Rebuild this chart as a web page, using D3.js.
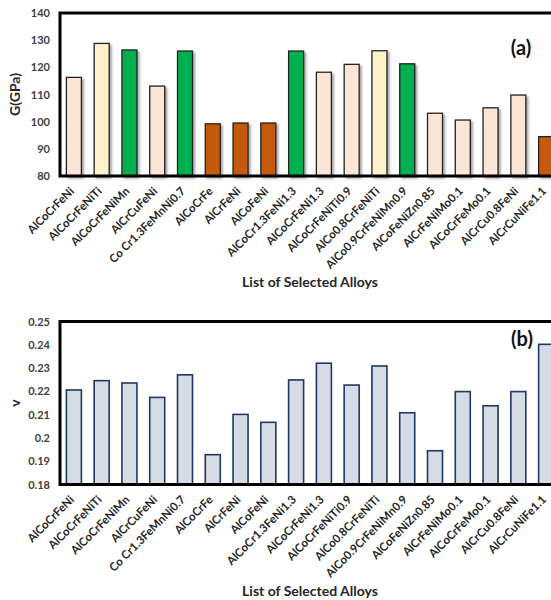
<!DOCTYPE html>
<meta charset="utf-8">
<style>
  body { margin: 0; overflow: hidden; background: #fff; }
  text { font-family: Lato, "Open Sans", sans-serif; font-weight: bold; }
</style>

<!-- Load d3.js -->
<script src="https://d3js.org/d3.v7.min.js"></script>

<div id="my_dataviz"></div>

<script>

// alloys on the x axis (same order in both panels)
var alloys = ["AlCoCrFeNi", "AlCoCrFeNiTi", "AlCoCrFeNiMn", "AlCrCuFeNi", "Co Cr1.3FeMnNi0.7",
  "AlCoCrFe", "AlCrFeNi", "AlCoFeNi", "AlCoCr1.3FeNi1.3", "AlCoCrFeNi1.3", "AlCoCrFeNiTi0.9",
  "AlCo0.8CrFeNiTi", "AlCo0.9CrFeNiMn0.9", "AlCoFeNiZn0.85", "AlCrFeNiMo0.1", "AlCoCrFeMo0.1",
  "AlCrCu0.8FeNi", "AlCrCuNiFe1.1"];

// shear modulus G (GPa)
var shearModulus = [116.3, 128.8, 126.4, 113.1, 126.0, 99.2, 99.5, 99.5, 126.0, 118.2,
  121.1, 126.1, 121.3, 103.1, 100.6, 105.1, 109.8, 94.5];

// group of each bar in panel (a)
var groups = ["p", "y", "g", "p", "g", "o", "o", "o", "g", "p", "p", "y", "g", "p", "p", "p", "p", "o"];

// poisson ratio v
var poisson = [0.2206, 0.2246, 0.2236, 0.2174, 0.2271, 0.1928, 0.2101, 0.2067, 0.2249, 0.2321,
  0.2227, 0.2309, 0.2108, 0.1945, 0.2199, 0.2138, 0.2199, 0.2402];

var gTicks = [80, 90, 100, 110, 120, 130, 140];
var vTicks = [0.18, 0.19, 0.2, 0.21, 0.22, 0.23, 0.24, 0.25];

var groupColor = {p: "#fbe5d6", y: "#fff2cc", g: "#00b050", o: "#c55a11"};

var margin = {left: 60},
    plotWidth = 500,
    plotHeight = 163;

var svg = d3.select("#my_dataviz")
  .append("svg")
    .attr("width", 580)
    .attr("height", 600);

// soft shadow behind the bars of (a)
svg.append("defs").append("filter")
    .attr("id", "shadow")
    .attr("x", "-20%").attr("y", "-20%").attr("width", "160%").attr("height", "140%")
  .append("feDropShadow")
    .attr("dx", 2).attr("dy", 2)
    .attr("stdDeviation", 1.2)
    .attr("flood-color", "#000")
    .attr("flood-opacity", 0.35);

var x = d3.scaleBand()
  .domain(alloys)
  .range([0, plotWidth])
  .paddingInner(0.46)
  .paddingOuter(0.23);

function drawPanel(top, values, domain, ticks, fmt, yTitle, tag, styleBar) {
  var g = svg.append("g")
    .attr("transform", "translate(" + margin.left + "," + top + ")");

  var y = d3.scaleLinear()
    .domain(domain)
    .range([plotHeight, 0]);

  // bars
  var bars = g.append("g")
    .selectAll("rect")
    .data(values)
    .enter()
    .append("rect")
      .attr("x", function (d, i) { return x(alloys[i]); })
      .attr("y", function (d) { return y(d); })
      .attr("width", x.bandwidth())
      .attr("height", function (d) { return plotHeight - y(d); });
  styleBar(bars);

  // frame
  g.append("rect")
    .attr("x", 0).attr("y", 0)
    .attr("width", plotWidth).attr("height", plotHeight)
    .attr("fill", "none")
    .attr("stroke", "#000")
    .attr("stroke-width", 3);

  // y axis
  var yAxis = g.append("g")
    .call(d3.axisLeft(y).tickValues(ticks).tickFormat(fmt).tickSize(0).tickPadding(10));
  yAxis.select(".domain").remove();
  yAxis.selectAll("text")
    .style("font-size", "11px")
    .style("font-family", "Lato, sans-serif")
    .style("font-weight", "bold")
    .attr("fill", "#404040");

  // x axis, labels slanted at 45 degrees
  var xAxis = g.append("g")
    .attr("transform", "translate(0," + plotHeight + ")")
    .call(d3.axisBottom(x).tickSize(0));
  xAxis.select(".domain").remove();
  xAxis.selectAll("text")
    .style("font-size", "11.5px")
    .style("font-family", "Lato, sans-serif")
    .style("font-weight", "bold")
    .attr("fill", "#262626")
    .attr("text-anchor", "end")
    .attr("transform", "translate(-2,13) rotate(-45)")
    .attr("dy", "0.35em")
    .attr("y", 0)
    .attr("x", 0);

  // y title
  g.append("text")
    .attr("transform", "rotate(-90)")
    .attr("x", -plotHeight / 2)
    .attr("y", -40)
    .attr("text-anchor", "middle")
    .style("font-size", "14px")
    .attr("fill", "#262626")
    .text(yTitle);

  // x title
  g.append("text")
    .attr("x", 250)
    .attr("y", plotHeight + 111)
    .attr("text-anchor", "middle")
    .style("font-size", "14px")
    .attr("fill", "#262626")
    .text("List of Selected Alloys");

  // panel tag
  g.append("text")
    .attr("x", tag.x)
    .attr("y", tag.y)
    .attr("text-anchor", "middle")
    .style("font-size", "20px")
    .attr("fill", "#111")
    .text(tag.label);
}

drawPanel(13, shearModulus, [80, 140], gTicks, d3.format("d"), "G(GPa)",
  {label: "(a)", x: 461, y: 42},
  function (bars) {
    bars.attr("fill", function (d, i) { return groupColor[groups[i]]; })
      .attr("stroke", "#222")
      .attr("stroke-width", 1.3)
      .attr("filter", "url(#shadow)");
  });

drawPanel(321.5, poisson, [0.18, 0.25], vTicks, function (d) { return String(+d.toFixed(2)); }, "v",
  {label: "(b)", x: 462, y: 24},
  function (bars) {
    bars.attr("fill", "#d6dce5")
      .attr("stroke", "#203864")
      .attr("stroke-width", 1.6);
  });

</script>
